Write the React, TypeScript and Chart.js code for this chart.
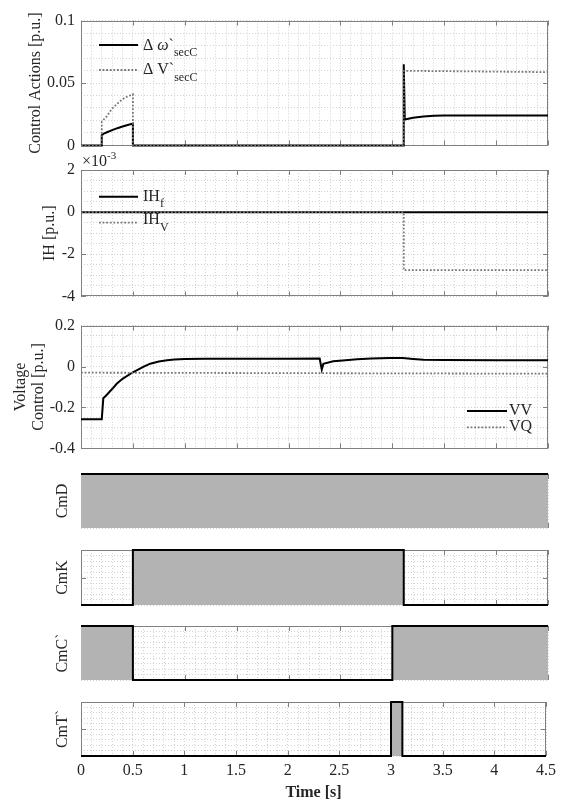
import React, { useEffect, useRef } from "react";
import { Chart, registerables } from "chart.js";

Chart.register(...registerables);

const FONT = "'Liberation Serif', 'Times New Roman', Times, serif";
const TEXT = "#262626";
const BOX = "#808080";
const GRID = "#d2d2d2";
const GRAY_LINE = "#777777";
const FILL = "#b3b3b3";

// ---------- time axis ----------
const X_MIN = 0;
const X_MAX = 4.5;
const X_MINOR = 0.1;
const xTickValues = [0, 0.5, 1, 1.5, 2, 2.5, 3, 3.5, 4, 4.5];
const xTickLabels = ["0", "0.5", "1", "1.5", "2", "2.5", "3", "3.5", "4", "4.5"];

// ---------- panel 1: control actions ----------
const tOmegaSec = [0, 0.2, 0.2, 0.22, 0.25, 0.3, 0.35, 0.4, 0.45, 0.5, 0.5, 3.11, 3.11, 3.12, 3.2, 3.3, 3.4, 3.5, 4.0, 4.5];
const omegaSec = [0, 0, 0.0082, 0.0095, 0.0105, 0.0122, 0.0138, 0.0152, 0.0164, 0.0175, 0, 0, 0.065, 0.0207, 0.0222, 0.0232, 0.0237, 0.024, 0.024, 0.024];
const tVSec = [0, 0.2, 0.2, 0.25, 0.3, 0.35, 0.4, 0.45, 0.5, 0.5, 3.11, 3.11, 3.5, 4.0, 4.5];
const vSec = [0, 0, 0.019, 0.0235, 0.0295, 0.0335, 0.037, 0.0393, 0.041, 0, 0, 0.0598, 0.0595, 0.0591, 0.0587];
const p1TickValues = [0, 0.05, 0.1];
const p1TickLabels = ["0", "0.05", "0.1"];

// ---------- panel 2: IH ----------
const tIHf = [0, 4.5];
const ihF = [0, 0];
const tIHv = [0, 3.11, 3.11, 4.5];
const ihV = [0, 0, -0.00275, -0.00275];
const p2TickValues = [-0.004, -0.002, 0, 0.002];
const p2TickLabels = ["-4", "-2", "0", "2"];

// ---------- panel 3: voltage control ----------
const tVV = [0, 0.2, 0.215, 0.24, 0.3, 0.344, 0.4, 0.5, 0.6, 0.667, 0.75, 0.83, 0.9, 1.0, 1.2, 1.5, 2.0, 2.3, 2.32, 2.335, 2.43, 2.55, 2.66, 2.8, 2.98, 3.1, 3.2, 3.3, 3.5, 4.0, 4.5];
const vv = [-0.258, -0.258, -0.155, -0.143, -0.11, -0.084, -0.06, -0.028, -0.002, 0.014, 0.025, 0.031, 0.034, 0.037, 0.038, 0.038, 0.038, 0.039, -0.015, 0.013, 0.026, 0.031, 0.035, 0.039, 0.042, 0.042, 0.037, 0.033, 0.032, 0.031, 0.031];
const tVQ = [0, 4.5];
const vq = [-0.03, -0.035];
const p3TickValues = [-0.4, -0.2, 0, 0.2];
const p3TickLabels = ["-0.4", "-0.2", "0", "0.2"];

// ---------- binary modes ----------
const tCmD = [0, 4.5];
const cmD = [1, 1];
const tCmK = [0, 0.5, 0.5, 3.11, 3.11, 4.5];
const cmK = [0, 0, 1, 1, 0, 0];
const tCmC = [0, 0.5, 0.5, 3.0, 3.0, 4.5];
const cmC = [1, 1, 0, 0, 1, 1];
const tCmT = [0, 3.0, 3.0, 3.11, 3.11, 4.5];
const cmT = [0, 0, 1, 1, 0, 0];
const binTickValues = [0.5];

// ---------- helpers ----------
const pts = (t: number[], v: number[]) => t.map((x, i) => ({ x, y: v[i] }));

const stepTicks = (min: number, max: number, step: number) => {
  const n = Math.round((max - min) / step);
  const out: { value: number }[] = [];
  for (let i = 0; i <= n; i++) out.push({ value: +(min + i * step).toFixed(8) });
  return out;
};

const DOT_W = 1.8;
const DOT_DASH = [1.8, 1.8];

const solid = (label: string, t: number[], v: number[]) => ({
  label, data: pts(t, v), borderColor: "#000", borderWidth: 2, pointRadius: 0,
  tension: 0, fill: false, clip: false, order: 2,
});
const dotted = (label: string, t: number[], v: number[]) => ({
  label, data: pts(t, v), borderColor: GRAY_LINE, borderWidth: DOT_W, borderDash: DOT_DASH,
  pointRadius: 0, tension: 0, fill: false, clip: false, order: 1,
});
const binary = (label: string, t: number[], v: number[]) => ({
  label, data: pts(t, v), borderColor: "#000", borderWidth: 2, backgroundColor: FILL,
  pointRadius: 0, tension: 0, fill: "origin", clip: false,
});

type Seg = { text: string; sub?: boolean; italic?: boolean };
type LegendItem = { x0: number; x1: number; ly: number; tx: number; by: number; parts: Seg[]; color: string; width: number; dash: number[] };

type Spec = {
  key: string;
  top: number; bottom: number; padTop: number; padBottom: number; xHeight: number; padLeft: number;
  title: string | string[]; titleLH: number;
  yMin: number; yMax: number; yStep: number;
  yTickValues: number[]; yTickLabels: string[] | null;
  showX: boolean;
  datasets: any[];
  legend: LegendItem[];
  exponent?: boolean;
};

const solidLeg = { color: "#000", width: 2, dash: [] as number[] };
const dotLeg = { color: GRAY_LINE, width: DOT_W, dash: DOT_DASH };

const binSpec = (key: string, title: string, top: number, bottom: number, data: any, last = false): Spec => ({
  key, top, bottom, padTop: 12, padBottom: last ? 2 : 12, xHeight: last ? 46 : 0, padLeft: 53,
  title, titleLH: 1.2, yMin: 0, yMax: 1, yStep: 0.1,
  yTickValues: binTickValues, yTickLabels: null, showX: last,
  datasets: [data], legend: [],
});

const PANELS: Spec[] = [
  {
    key: "p1", top: 17, bottom: 149, padTop: 12, padBottom: 12, xHeight: 0, padLeft: 26.4,
    title: "Control Actions [p.u.]", titleLH: 1.2,
    yMin: 0, yMax: 0.1, yStep: 0.01, yTickValues: p1TickValues, yTickLabels: p1TickLabels, showX: false,
    datasets: [solid("Δ ω`secC", tOmegaSec, omegaSec), dotted("Δ V`secC", tVSec, vSec)],
    legend: [
      { x0: 99, x1: 138, ly: 45, tx: 143, by: 49.5, parts: [{ text: "Δ " }, { text: "ω", italic: true }, { text: "`" }, { text: "secC", sub: true }], ...solidLeg },
      { x0: 99, x1: 138, ly: 70, tx: 143, by: 74, parts: [{ text: "Δ V`" }, { text: "secC", sub: true }], ...dotLeg },
    ],
  },
  {
    key: "p2", top: 170, bottom: 300, padTop: 24, padBottom: 12, xHeight: 0, padLeft: 40.4,
    title: "IH [p.u.]", titleLH: 1.2,
    yMin: -0.004, yMax: 0.002, yStep: 0.0005, yTickValues: p2TickValues, yTickLabels: p2TickLabels, showX: false,
    datasets: [solid("IHf", tIHf, ihF), dotted("IHV", tIHv, ihV)],
    legend: [
      { x0: 99, x1: 138, ly: 196.7, tx: 143, by: 200.5, parts: [{ text: "IH" }, { text: "f", sub: true }], ...solidLeg },
      { x0: 99, x1: 138, ly: 222.7, tx: 143, by: 224, parts: [{ text: "IH" }, { text: "V", sub: true }], ...dotLeg },
    ],
    exponent: true,
  },
  {
    key: "p3", top: 322, bottom: 452, padTop: 12, padBottom: 12, xHeight: 0, padLeft: 12,
    title: ["Voltage", "Control [p.u.]"], titleLH: 1.125,
    yMin: -0.4, yMax: 0.2, yStep: 0.05, yTickValues: p3TickValues, yTickLabels: p3TickLabels, showX: false,
    datasets: [solid("VV", tVV, vv), dotted("VQ", tVQ, vq)],
    legend: [
      { x0: 467, x1: 507, ly: 411, tx: 509, by: 415, parts: [{ text: "VV" }], ...solidLeg },
      { x0: 467, x1: 507, ly: 427.3, tx: 509, by: 431, parts: [{ text: "VQ" }], ...dotLeg },
    ],
  },
  binSpec("p4", "CmD", 474, 528, binary("CmD", tCmD, cmD)),
  binSpec("p5", "CmK", 550, 605, binary("CmK", tCmK, cmK)),
  binSpec("p6", "CmC`", 626, 680, binary("CmC`", tCmC, cmC)),
  binSpec("p7", "CmT`", 702, 756, binary("CmT`", tCmT, cmT), true),
];

const labelFor = (value: number, vals: number[], labels: string[] | null, tol: number) => {
  if (!labels) return "";
  const i = vals.findIndex((v) => Math.abs(v - value) < tol);
  return i >= 0 ? labels[i] : "";
};

function PanelChart({ spec }: { spec: Spec }) {
  const ref = useRef<HTMLCanvasElement>(null);
  const canvasTop = spec.top - spec.padTop;
  const height = spec.padTop + (spec.bottom - spec.top) + spec.xHeight + spec.padBottom;

  useEffect(() => {
    const canvas = ref.current;
    if (!canvas) return;

    const framePlugin = {
      id: "frame" + spec.key,
      beforeDatasetsDraw(chart: any) {
        const { ctx, chartArea: a, scales } = chart;
        ctx.save();
        ctx.strokeStyle = BOX;
        ctx.lineWidth = 1;
        ctx.setLineDash([]);
        ctx.strokeRect(Math.round(a.left) + 0.5, Math.round(a.top) + 0.5, Math.round(a.right - a.left) - 1, Math.round(a.bottom - a.top) - 1);
        ctx.beginPath();
        for (const v of xTickValues) {
          const px = Math.round(scales.x.getPixelForValue(v)) + 0.5;
          ctx.moveTo(px, a.bottom);
          ctx.lineTo(px, a.bottom - 5);
          ctx.moveTo(px, a.top);
          ctx.lineTo(px, a.top + 5);
        }
        for (const v of spec.yTickValues) {
          const py = Math.round(scales.y.getPixelForValue(v)) + 0.5;
          ctx.moveTo(a.left, py);
          ctx.lineTo(a.left + 5, py);
          ctx.moveTo(a.right, py);
          ctx.lineTo(a.right - 5, py);
        }
        ctx.stroke();
        ctx.restore();
      },
    };

    const legendPlugin = {
      id: "leg" + spec.key,
      afterDatasetsDraw(chart: any) {
        const ctx = chart.ctx;
        ctx.save();
        for (const it of spec.legend) {
          ctx.strokeStyle = it.color;
          ctx.lineWidth = it.width;
          ctx.setLineDash(it.dash);
          ctx.beginPath();
          ctx.moveTo(it.x0, it.ly - canvasTop);
          ctx.lineTo(it.x1, it.ly - canvasTop);
          ctx.stroke();
          ctx.setLineDash([]);
          ctx.fillStyle = TEXT;
          ctx.textBaseline = "alphabetic";
          ctx.textAlign = "left";
          let x = it.tx;
          for (const s of it.parts) {
            ctx.font = `${s.italic ? "italic " : ""}${s.sub ? 12 : 16}px ${FONT}`;
            ctx.fillText(s.text, x, it.by - canvasTop + (s.sub ? 6.5 : 0));
            x += ctx.measureText(s.text).width;
          }
        }
        if (spec.exponent) {
          ctx.fillStyle = TEXT;
          ctx.textBaseline = "alphabetic";
          ctx.textAlign = "left";
          ctx.font = `16px ${FONT}`;
          const base = "×10";
          ctx.fillText(base, 82, 166 - canvasTop);
          const w = ctx.measureText(base).width;
          ctx.font = `11px ${FONT}`;
          ctx.fillText("-3", 82 + w, 158.5 - canvasTop);
        }
        ctx.restore();
      },
    };

    const chart = new Chart(canvas, {
      type: "line",
      data: { datasets: spec.datasets },
      options: {
        responsive: false,
        maintainAspectRatio: false,
        animation: false,
        devicePixelRatio: 1,
        layout: { padding: { left: spec.padLeft, right: 13, top: spec.padTop, bottom: spec.padBottom } },
        plugins: { legend: { display: false }, tooltip: { enabled: false } },
        elements: { point: { radius: 0 }, line: { borderJoinStyle: "miter" } },
        scales: {
          x: {
            type: "linear",
            min: X_MIN,
            max: X_MAX,
            afterBuildTicks: (s: any) => { s.ticks = stepTicks(X_MIN, X_MAX, X_MINOR); },
            afterFit: (s: any) => { s.height = spec.xHeight; },
            ticks: {
              display: spec.showX,
              autoSkip: false,
              maxRotation: 0,
              padding: 5,
              color: TEXT,
              font: { family: FONT, size: 16 },
              callback: (v: any) => labelFor(Number(v), xTickValues, xTickLabels, 1e-4),
            },
            grid: { color: GRID, lineWidth: 1, drawTicks: false },
            border: { display: false, dash: [1, 2] },
            title: {
              display: spec.showX,
              text: "Time [s]",
              color: TEXT,
              font: { family: FONT, size: 16, weight: "bold" },
              padding: { top: 0, bottom: 0 },
            },
          },
          y: {
            type: "linear",
            min: spec.yMin,
            max: spec.yMax,
            afterBuildTicks: (s: any) => { s.ticks = stepTicks(spec.yMin, spec.yMax, spec.yStep); },
            afterFit: (s: any) => { s.width = 81 - spec.padLeft; },
            ticks: {
              display: !!spec.yTickLabels,
              autoSkip: false,
              padding: 6,
              color: TEXT,
              font: { family: FONT, size: 16 },
              callback: (v: any) => labelFor(Number(v), spec.yTickValues, spec.yTickLabels, spec.yStep * 1e-3),
            },
            grid: { color: GRID, lineWidth: 1, drawTicks: false },
            border: { display: false, dash: [1, 2] },
            title: {
              display: true,
              text: spec.title,
              color: TEXT,
              font: { family: FONT, size: 16, lineHeight: spec.titleLH },
              padding: 0,
            },
          },
        },
      } as any,
      plugins: [framePlugin, legendPlugin],
    });
    return () => chart.destroy();
  }, []);

  return (
    <canvas
      ref={ref}
      width={561}
      height={height}
      style={{ position: "absolute", left: 0, top: canvasTop, width: 561, height, display: "block" }}
    />
  );
}

export default function App() {
  return (
    <div style={{ position: "absolute", left: 0, top: 0, width: 561, height: 804, background: "#fff", overflow: "hidden" }}>
      {PANELS.map((p) => (
        <PanelChart key={p.key} spec={p} />
      ))}
    </div>
  );
}
